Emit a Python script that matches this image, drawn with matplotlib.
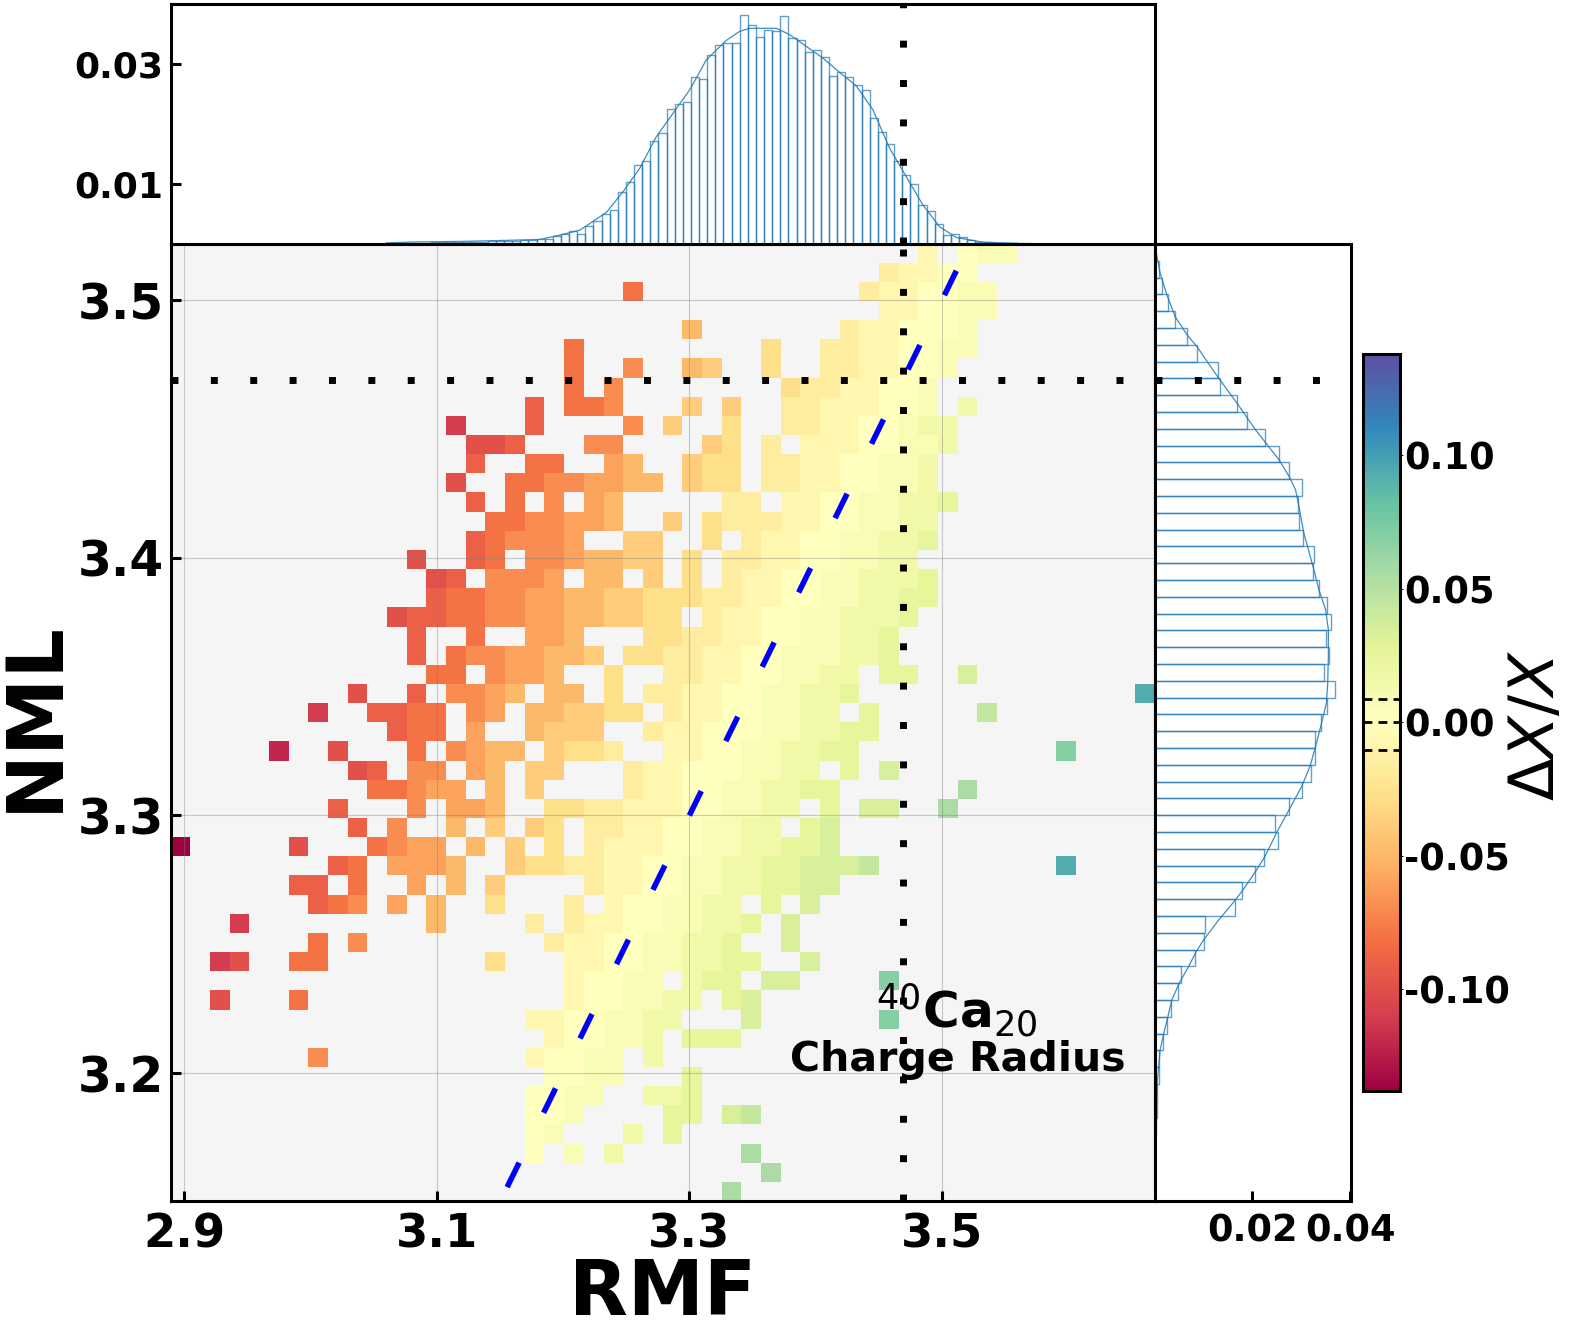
"""Joint plot of RMF vs NML charge radius, coloured by relative difference"""

import numpy as np
import matplotlib
matplotlib.use("Agg")
import matplotlib.pyplot as plt

# Heat map cells: (row from top, first column, levels)
# lowercase letters index neg_levels, uppercase index pos_levels, 0 = zero
neg_levels = [-0.008, -0.017, -0.027, -0.038, -0.049, -0.06, -0.07, -0.08, -0.09, -0.10, -0.11, -0.12, -0.13, -0.14]
pos_levels = [0.008, 0.016, 0.025, 0.034, 0.044, 0.055, 0.07, 0.08, 0.093]
heat_cells = [
    (0, 38, "a"), (0, 40, "0AA"),
    (1, 36, "baa00"),
    (2, 23, "h"), (2, 35, "baa00AA"),
    (3, 36, "aa00AA"),
    (4, 26, "e"), (4, 34, "baa000A"),
    (5, 20, "h"), (5, 30, "c"), (5, 33, "bbaa00AA"),
    (6, 20, "h"), (6, 23, "g"), (6, 26, "ed"), (6, 30, "c"), (6, 33, "bbaa00A"),
    (7, 20, "h"), (7, 22, "g"), (7, 31, "cbbaa00A"),
    (8, 18, "i"), (8, 20, "hhg"), (8, 26, "d"), (8, 28, "d"), (8, 31, "bbaaa00A"), (8, 40, "B"),
    (9, 14, "k"), (9, 18, "i"), (9, 23, "g"), (9, 25, "d"), (9, 28, "c"), (9, 31, "bbaa00ABB"),
    (10, 15, "jji"), (10, 21, "gg"), (10, 27, "dc"), (10, 30, "b"), (10, 32, "aaa00AAB"),
    (11, 15, "i"), (11, 18, "hh"), (11, 22, "fe"), (11, 26, "dcc"), (11, 30, "bbaa00AAB"),
    (12, 14, "j"), (12, 17, "hhggffee"), (12, 26, "dcc"), (12, 30, "bbaa00AAB"),
    (13, 15, "i"), (13, 17, "h"), (13, 19, "g"), (13, 21, "fe"), (13, 28, "bb"), (13, 31, "aa00AABBC"),
    (14, 16, "hhggffe"), (14, 25, "d"), (14, 27, "cbbbaa00AABB"),
    (15, 15, "ihgggf"), (15, 23, "dd"), (15, 27, "c"), (15, 29, "baa00AABBC"),
    (16, 12, "j"), (16, 15, "ih"), (16, 18, "ggfeedd"), (16, 26, "c"), (16, 28, "bbaa00AABB"),
    (17, 13, "ji"), (17, 16, "gggf"), (17, 21, "ee"), (17, 24, "d"), (17, 26, "c"), (17, 28, "baa00AABBBC"),
    (18, 13, "ihhggffeeddcccbbaa00AABBCC"),
    (19, 11, "jiihhggffeeddcc"), (19, 27, "baa00AABBBC"),
    (20, 12, "i"), (20, 15, "h"), (20, 18, "ffe"), (20, 24, "ccbbaa00AABBC"),
    (21, 12, "i"), (21, 14, "hggffeed"), (21, 23, "ccbbaa00AAABBC"),
    (22, 13, "hh"), (22, 16, "gffe"), (22, 22, "c"), (22, 25, "bbaa00AABB"), (22, 36, "CC"), (22, 40, "D"),
    (23, 9, "j"), (23, 12, "i"), (23, 14, "ggfe"), (23, 19, "ee"), (23, 22, "c"), (23, 24, "bbaa00AABBC"), (23, 49, "I"),
    (24, 7, "k"), (24, 10, "iihh"), (24, 15, "gf"), (24, 18, "eeddcc"), (24, 25, "baa00AABB"), (24, 35, "C"), (24, 41, "E"),
    (25, 11, "ihh"), (25, 15, "f"), (25, 18, "eddd"), (25, 24, "b"), (25, 25, "aa000AABBCC"),
    (26, 5, "l"), (26, 8, "j"), (26, 12, "h"), (26, 14, "gfee"), (26, 19, "dccb"), (26, 25, "aa00AABBCC"), (26, 45, "G"),
    (27, 9, "ji"), (27, 12, "gg"), (27, 15, "fe"), (27, 18, "dd"), (27, 23, "baa000AABB"), (27, 34, "C"), (27, 36, "D"),
    (28, 10, "hhgff"), (28, 16, "e"), (28, 18, "d"), (28, 23, "baa00AABBCC"), (28, 40, "F"),
    (29, 8, "i"), (29, 12, "g"), (29, 14, "ffe"), (29, 19, "ccbbaaa00AABB"), (29, 33, "C"), (29, 35, "DD"), (29, 39, "F"),
    (30, 9, "i"), (30, 11, "g"), (30, 14, "e"), (30, 16, "d"), (30, 18, "dc"), (30, 21, "bbaa00AABB"), (30, 32, "CD"),
    (31, 0, "n"), (31, 6, "j"), (31, 10, "hgff"), (31, 15, "e"), (31, 17, "d"), (31, 19, "c"), (31, 21, "baaa00AABBCCD"),
    (32, 8, "ih"), (32, 11, "fffe"), (32, 17, "dccbbaa00AABBCCDDDE"), (32, 45, "I"),
    (33, 6, "ii"), (33, 9, "h"), (33, 12, "f"), (33, 14, "e"), (33, 16, "d"), (33, 21, "baa00AABBCCDD"),
    (34, 7, "ihg"), (34, 11, "f"), (34, 13, "e"), (34, 16, "c"), (34, 20, "b"), (34, 22, "a00AABB"), (34, 30, "C"), (34, 32, "D"),
    (35, 3, "k"), (35, 13, "e"), (35, 18, "b"), (35, 20, "baa00AABBC"), (35, 31, "D"),
    (36, 7, "h"), (36, 9, "g"), (36, 19, "baa00AABBC"), (36, 31, "D"),
    (37, 2, "kj"), (37, 6, "hh"), (37, 16, "c"), (37, 20, "aa00AABBCC"), (37, 32, "D"),
    (38, 20, "a00AA"), (38, 26, "BCC"), (38, 30, "DD"), (38, 36, "G"),
    (39, 2, "j"), (39, 6, "h"), (39, 20, "a00AABB"), (39, 28, "CD"),
    (40, 18, "aa00AABB"), (40, 29, "D"), (40, 36, "G"),
    (41, 19, "a00AAB"), (41, 26, "CCC"),
    (42, 7, "g"), (42, 18, "a00AA"), (42, 24, "B"),
    (43, 19, "00AA"), (43, 26, "C"),
    (44, 18, "00AA"), (44, 24, "BBC"),
    (45, 18, "00A"), (45, 25, "CC"), (45, 28, "DE"),
    (46, 18, "0A"), (46, 23, "B"), (46, 25, "C"),
    (47, 18, "0"), (47, 20, "A"), (47, 22, "B"), (47, 29, "F"),
    (48, 30, "F"),
    (49, 28, "F"),
]

# Marginal histogram of RMF (density, units of 1e-4)
rmf_hist = [0.8, 0.8, 1.2, 1.6, 1.6, 2, 2.5, 2, 2, 3, 3, 2.5, 4, 4, 5, 5, 5.5, 6.5,
            7.8, 7.8, 12.3, 16.2, 20.6, 16.2, 28.5, 36.8, 48.5, 55.8, 85.9, 102.7, 131.1, 137.3,
            171.3, 184.1, 223.8, 233.8, 235.5, 278.4, 274.5, 314.7, 330.9, 334.2, 334.8, 381.7,
            364.4, 344.3, 357.1, 354.3, 380.6, 343.2, 340.4, 319.2, 322.5, 310.8, 280.1, 285.7,
            277.3, 264.5, 255.6, 210.4, 186.4, 166.3, 137.3, 113.8, 98.8, 63.6, 54.7, 31.8,
            14, 15.1, 10.6, 5.6, 3.3, 2, 1.5, 1, 0.7, 0.5, 0.5]
rmf_kde_x = [3.06, 3.08, 3.12, 3.15, 3.1816, 3.1974, 3.2132, 3.2343, 3.2475, 3.2607, 3.2739, 3.2871,
             3.3003, 3.3135, 3.3293, 3.3398, 3.3478, 3.3689, 3.3795, 3.3926, 3.4058, 3.4190, 3.4322,
             3.4454, 3.4586, 3.4718, 3.4850, 3.4982, 3.5114, 3.5325, 3.56]
rmf_kde_y = [1, 2.5, 3.5, 5, 6.7, 14, 22.3, 51.9, 86.5, 125.6, 178.6, 217.6,
             256.7, 306.9, 339.3, 354.3, 359.4, 359.4, 348.8, 329.2, 309.7, 285.7, 263.4,
             223.2, 159, 111.6, 64.2, 27.9, 10, 2.2, 0.3]

# Marginal histogram of NML, from the top of the axes down (density, units of 1e-4)
nml_hist = [1.4, 9.6, 15, 27.4, 42.4, 67, 86.9, 129.3, 133.4, 169, 190.2, 225.7, 255.1, 275.7,
            301.6, 292.8, 294.8, 303, 326.3, 324.9, 336.5, 353.6, 361.2, 350.2, 357, 346.8, 369.4,
            352.3, 340, 327.6, 329, 319.4, 301, 275.7, 246.9, 251.7, 225, 206.6, 179.9, 165.5,
            104, 100.5, 82.8, 54, 47.9, 33.5, 25.3, 17.8, 9.6, 8.9, 4.1, 4.8, 2.1, 1, 0.5]
nml_kde_y = [3.5219, 3.5105, 3.5021, 3.4936, 3.4865, 3.4820, 3.4703, 3.4600, 3.4497, 3.4451, 3.4380,
             3.4315, 3.4264, 3.4199, 3.4095, 3.3953, 3.3875, 3.3798, 3.3720, 3.3617, 3.3513, 3.3435,
             3.3345, 3.3254, 3.3190, 3.3112, 3.3021, 3.2937, 3.2840, 3.2782, 3.2708, 3.2672, 3.2594,
             3.2517, 3.2465, 3.2413, 3.2349, 3.2284, 3.2219, 3.2155, 3.2090, 3.1960, 3.1766, 3.1637]
nml_kde_x = [0, 11.6, 25.3, 42.4, 67, 86.9, 129.3, 169, 206.6, 225.7, 255.1,
             275.7, 288.6, 295.5, 305.7, 326.3, 336.5, 350.2, 355.7, 355.7, 354.3, 351.6,
             340, 327.6, 318, 301, 275, 251, 225.7, 206.6, 179.9, 165.5, 131.3,
             100.5, 83.4, 69.7, 50.6, 35.6, 27.4, 19.2, 11.6, 5.5, 1.4, 0]

exp_value = 3.469               # dotted reference lines on both axes
identity_line = [3.1557, 3.5205]  # blue y = x line
cbar_ticks = [-0.10, -0.05, 0.00, 0.05, 0.10]
cbar_marks = [0.0087, 0.0, -0.0104]  # dashed lines on the colour bar
rmf_ticks = [2.9, 3.1, 3.3, 3.5]
nml_ticks = [3.2, 3.3, 3.4, 3.5]
top_ticks = [0.01, 0.03]
right_ticks = [0.02, 0.04]

xlim = (2.88916, 3.66838)
ylim = (3.15031, 3.52205)
vmax = 0.138
hist_color = "#1f77b4"

W, H = 1578, 1335
plt.rcParams["font.family"] = "DejaVu Sans"
fig = plt.figure(figsize=(W / 100, H / 100), dpi=100)


def px_axes(left, top, right, bottom):
    return fig.add_axes([left / W, 1 - bottom / H, (right - left) / W, (bottom - top) / H])


ax = px_axes(170.6, 243.5, 1154.5, 1201)
ax_top = px_axes(170.6, 4, 1154.5, 243.5)
ax_right = px_axes(1154.5, 243.5, 1351, 1201)
cax = px_axes(1363, 353.5, 1400, 1091)

# Decode the cell table into a 50 x 50 grid
grid = np.full((50, 50), np.nan)
for row, first, levels in heat_cells:
    for i, ch in enumerate(levels):
        if ch.islower():
            grid[row, first + i] = neg_levels[ord(ch) - ord("a")]
        elif ch.isupper():
            grid[row, first + i] = pos_levels[ord(ch) - ord("A")]
        else:
            grid[row, first + i] = 0.0

x_edges = np.linspace(xlim[0], xlim[1], 51)
y_edges = np.linspace(ylim[1], ylim[0], 51)
ax.set_facecolor("whitesmoke")
mesh = ax.pcolormesh(x_edges, y_edges, grid, cmap="Spectral", vmin=-vmax, vmax=vmax, zorder=2)
ax.grid(True, color="gray", alpha=0.4, lw=0.8, zorder=3)
ax.set_axisbelow(False)

dots = (0, (1, 4.67))
ax.axvline(exp_value, color="k", lw=5, ls=dots, dash_capstyle="butt", zorder=5)
ax.axhline(exp_value, color="k", lw=5, ls=dots, dash_capstyle="butt", zorder=5)
ax.plot(identity_line, identity_line, color="b", lw=4, ls=(0, (4.9, 10)), dash_capstyle="butt", zorder=6)

ax.set_xlim(xlim)
ax.set_ylim(ylim)
ax.set_xticks(rmf_ticks)
ax.set_yticks(nml_ticks)
ax.set_xticklabels(["%.1f" % t for t in rmf_ticks], fontsize=33.5, fontweight="bold")
ax.set_yticklabels(["%.1f" % t for t in nml_ticks], fontsize=35, fontweight="bold")
ax.tick_params(axis="both", direction="in", length=7, width=2.2)
ax.tick_params(axis="x", pad=8)
ax.tick_params(axis="y", pad=5)

ax.text(3.5115, 3.2245, r"$^{40}\mathbf{Ca}_{20}$", fontsize=36, ha="center", va="center", zorder=7)
ax.text(3.5124, 3.2052, "Charge Radius", fontsize=29.5, fontweight="bold", ha="center", va="center", zorder=7)

# Top marginal
rmf_density = np.array(rmf_hist) * 1e-4
rmf_width = 0.006436
rmf_left = 3.0631 + rmf_width * np.arange(len(rmf_density))
ax_top.bar(rmf_left, rmf_density, width=rmf_width, align="edge", fill=False,
           edgecolor=hist_color, lw=1.0, alpha=0.7)
ax_top.plot(rmf_kde_x, np.array(rmf_kde_y) * 1e-4, color=hist_color, lw=0.9, alpha=0.85)
ax_top.axvline(exp_value, color="k", lw=5, ls=dots, dash_capstyle="butt")
ax_top.set_xlim(xlim)
ax_top.set_ylim(0, 0.04)
ax_top.set_xticks([])
ax_top.set_yticks(top_ticks)
ax_top.set_yticklabels(["%.2f" % t for t in top_ticks], fontsize=26, fontweight="bold")
ax_top.tick_params(axis="y", direction="in", length=7, width=2.2, pad=5)

# Right marginal
nml_density = np.array(nml_hist) * 1e-4
nml_width = 0.006522
nml_bottom = 3.52186 - nml_width * (np.arange(len(nml_density)) + 1)
ax_right.barh(nml_bottom, nml_density, height=nml_width, align="edge", fill=False,
              edgecolor=hist_color, lw=1.0, alpha=0.7)
ax_right.plot(np.array(nml_kde_x) * 1e-4, nml_kde_y, color=hist_color, lw=0.9, alpha=0.85)
ax_right.axhline(exp_value, color="k", lw=5, ls=dots, dash_capstyle="butt")
ax_right.set_ylim(ylim)
ax_right.set_xlim(0, 0.0402)
ax_right.set_yticks([])
ax_right.set_xticks(right_ticks)
ax_right.set_xticklabels(["%.2f" % t for t in right_ticks], fontsize=26.5, fontweight="bold")
ax_right.tick_params(axis="x", direction="in", length=7, width=2.2, pad=8)

for a in (ax, ax_top, ax_right):
    for s in a.spines.values():
        s.set_linewidth(2.2)

# Colour bar
cb = fig.colorbar(mesh, cax=cax)
cb.set_ticks(cbar_ticks)
cb.set_ticklabels(["%.2f" % t for t in cbar_ticks], fontsize=26.5, fontweight="bold")
cb.ax.tick_params(length=2, width=0.7, pad=1)
cb.outline.set_linewidth(2.2)
for v in cbar_marks:
    cb.ax.axhline(v, color="k", lw=2, ls=(0, (3.2, 2.2)))

fig.text(663 / W, 1 - 1294 / H, "RMF", fontsize=55, fontweight="bold", ha="center", va="center")
fig.text(35 / W, 1 - 716 / H, "NML", fontsize=56, fontweight="bold", rotation=90, ha="center", va="center")
fig.text(1537 / W, 1 - 725 / H, r"$\Delta X/X$", fontsize=45, rotation=90, ha="center", va="center")

fig.savefig("out.png", dpi=100)
